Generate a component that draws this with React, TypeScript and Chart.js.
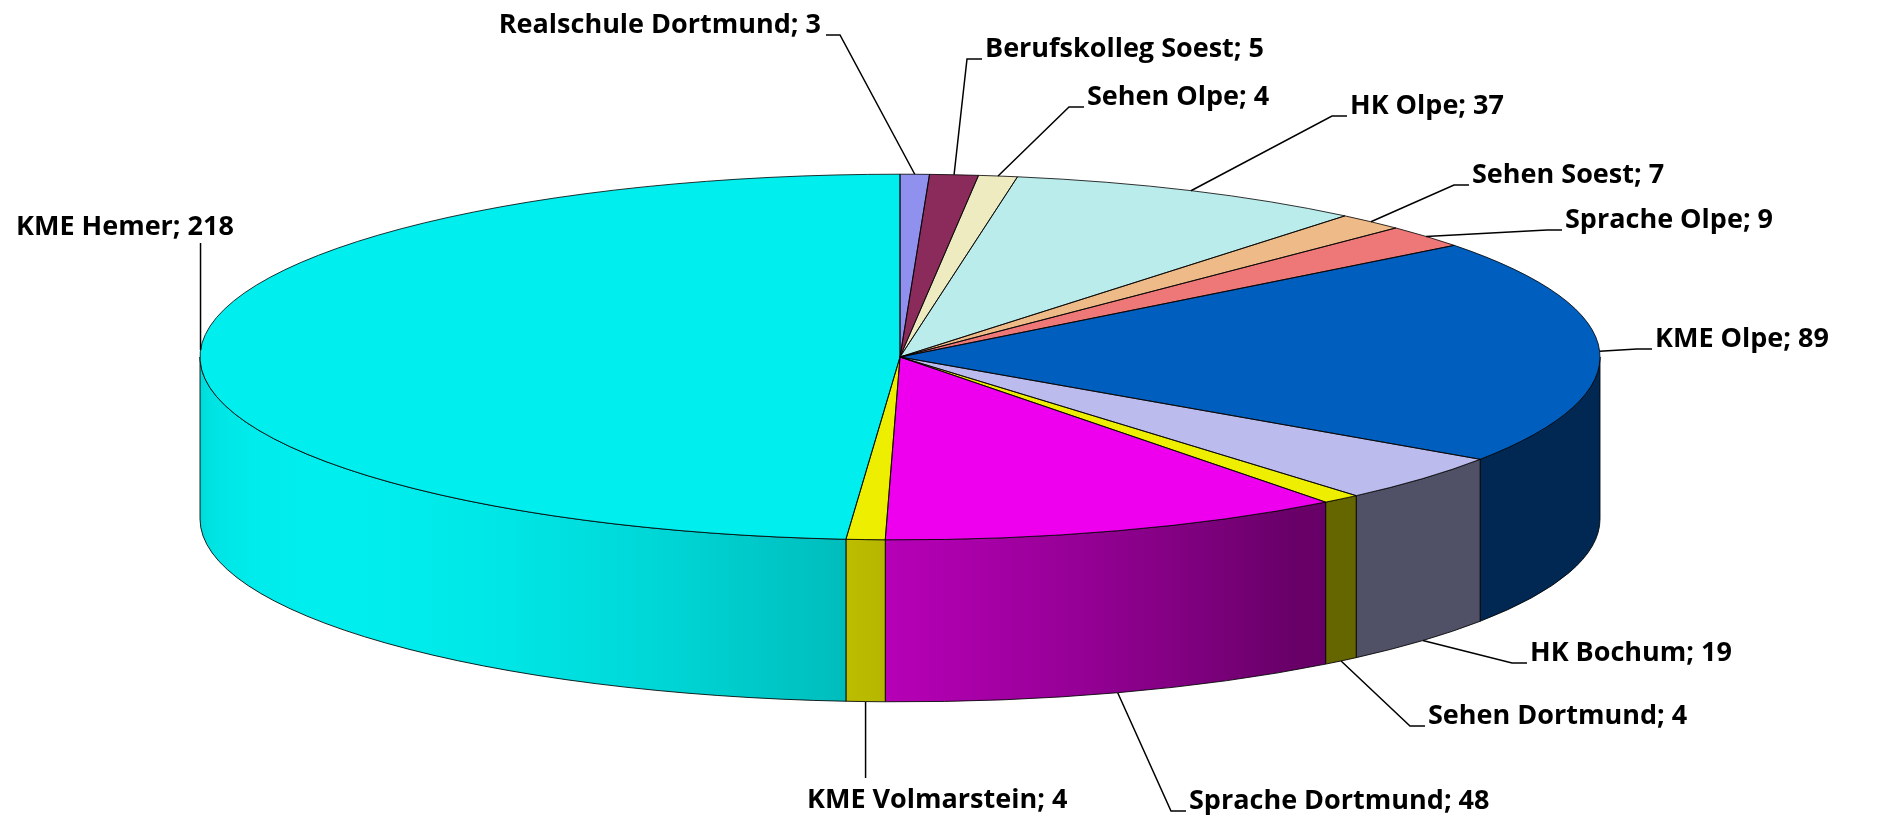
import React, { useEffect, useRef } from 'react';
import { Chart, registerables } from 'chart.js';

Chart.register(...registerables);

// ---------- data ----------
const categories = [
  'Realschule Dortmund',
  'Berufskolleg Soest',
  'Sehen Olpe',
  'HK Olpe',
  'Sehen Soest',
  'Sprache Olpe',
  'KME Olpe',
  'HK Bochum',
  'Sehen Dortmund',
  'Sprache Dortmund',
  'KME Volmarstein',
  'KME Hemer',
];
const values = [3, 5, 4, 37, 7, 9, 89, 19, 4, 48, 4, 218];
const sliceColors = [
  '#9090EE',
  '#8B2B5B',
  '#EEEBC0',
  '#BBECEC',
  '#EEBB88',
  '#EE7777',
  '#005EBE',
  '#BBBBEE',
  '#EEEE00',
  '#EE00EE',
  '#EEEE00',
  '#00EEEE',
];

// ---------- layout / style ----------
const W = 1880;
const H = 821;
const CX = 900;
const CY = 357;
const RX = 700;
const RY = 182.8;
const DEPTH = 162;
const LIGHT = (145 * Math.PI) / 180;
const FONT = 'bold 27px "Open Sans"';

// text reference point and leader style for each label (layout only)
const labelLayout = [
  { x: 821, y: 25, align: 'right', leader: 'side' },
  { x: 985, y: 49, align: 'left', leader: 'side' },
  { x: 1087, y: 97, align: 'left', leader: 'side' },
  { x: 1350, y: 106, align: 'left', leader: 'side' },
  { x: 1472, y: 175, align: 'left', leader: 'side' },
  { x: 1565, y: 220, align: 'left', leader: 'side' },
  { x: 1655, y: 339, align: 'left', leader: 'side' },
  { x: 1530, y: 653, align: 'left', leader: 'side' },
  { x: 1428, y: 716, align: 'left', leader: 'side' },
  { x: 1189, y: 801, align: 'left', leader: 'side' },
  { x: 807, y: 800, align: 'left', leader: 'above' },
  { x: 16, y: 227, align: 'left', leader: 'below' },
];

function shade(hex: string, f: number): string {
  const n = parseInt(hex.slice(1), 16);
  const r = Math.min(255, Math.round(((n >> 16) & 255) * f));
  const g = Math.min(255, Math.round(((n >> 8) & 255) * f));
  const b = Math.min(255, Math.round((n & 255) * f));
  return `rgb(${r},${g},${b})`;
}

function light(t: number): number {
  return 0.43 + 0.57 * Math.max(0, Math.cos(t - LIGHT));
}

const pie3d = {
  id: 'pie3d',
  beforeDatasetsDraw(chart: any) {
    const ctx = chart.ctx as CanvasRenderingContext2D;
    const meta = chart.getDatasetMeta(0);
    const colors = chart.data.datasets[0].backgroundColor as string[];
    // side walls (front half only)
    meta.data.forEach((arc: any, i: number) => {
      const { startAngle, endAngle } = arc.getProps(['startAngle', 'endAngle'], true);
      const a = Math.max(startAngle, 0);
      const b = Math.min(endAngle, Math.PI);
      if (b <= a) return;
      const g = ctx.createLinearGradient(CX - RX, 0, CX + RX, 0);
      const N = 48;
      for (let k = 0; k <= N; k++) {
        const t = (Math.PI * k) / N;
        g.addColorStop((1 + Math.cos(t)) / 2, shade(colors[i], light(t)));
      }
      ctx.beginPath();
      ctx.ellipse(CX, CY, RX, RY, 0, a, b);
      ctx.lineTo(CX + RX * Math.cos(b), CY + DEPTH + RY * Math.sin(b));
      ctx.ellipse(CX, CY + DEPTH, RX, RY, 0, b, a, true);
      ctx.closePath();
      ctx.fillStyle = g;
      ctx.fill();
      ctx.lineWidth = 1;
      ctx.strokeStyle = 'rgba(0,0,0,0.85)';
      ctx.stroke();
    });
    // squash the library's pie into the tilted ellipse
    const arc0: any = meta.data[0];
    const r = arc0.outerRadius;
    ctx.save();
    ctx.translate(CX, CY);
    ctx.scale(RX / r, RY / r);
    ctx.translate(-arc0.x, -arc0.y);
  },
  afterDatasetsDraw(chart: any) {
    const ctx = chart.ctx as CanvasRenderingContext2D;
    ctx.restore();
    const meta = chart.getDatasetMeta(0);
    const labels = chart.data.labels as string[];
    const data = chart.data.datasets[0].data as number[];
    // top face outlines
    ctx.lineWidth = 1;
    ctx.strokeStyle = 'rgba(0,0,0,0.8)';
    meta.data.forEach((arc: any) => {
      const { startAngle, endAngle } = arc.getProps(['startAngle', 'endAngle'], true);
      ctx.beginPath();
      ctx.moveTo(CX, CY);
      ctx.lineTo(CX + RX * Math.cos(startAngle), CY + RY * Math.sin(startAngle));
      ctx.ellipse(CX, CY, RX, RY, 0, startAngle, endAngle);
      ctx.closePath();
      ctx.stroke();
    });
    // labels with leader lines
    ctx.font = FONT;
    ctx.textBaseline = 'middle';
    ctx.fillStyle = '#000';
    meta.data.forEach((arc: any, i: number) => {
      const { startAngle, endAngle } = arc.getProps(['startAngle', 'endAngle'], true);
      const mid = (startAngle + endAngle) / 2;
      const front = Math.sin(mid) > 0;
      const ax = CX + RX * Math.cos(mid);
      const ay = CY + RY * Math.sin(mid) + (front ? DEPTH : 0);
      const L = labelLayout[i];
      const text = `${labels[i]}; ${data[i]}`;
      ctx.beginPath();
      ctx.moveTo(ax, ay);
      if (L.leader === 'side') {
        const yb = L.y + 10;
        if (L.align === 'left') {
          ctx.lineTo(L.x - 18, yb);
          ctx.lineTo(L.x - 3, yb);
        } else {
          ctx.lineTo(L.x + 19, yb);
          ctx.lineTo(L.x + 5, yb);
        }
      } else if (L.leader === 'above') {
        ctx.lineTo(ax, L.y - 22);
      } else {
        ctx.lineTo(ax, L.y + 16);
      }
      ctx.lineWidth = 1.5;
      ctx.strokeStyle = '#000';
      ctx.stroke();
      ctx.textAlign = L.align as CanvasTextAlign;
      ctx.fillText(text, L.x, L.y);
    });
  },
};

export default function App() {
  const ref = useRef<HTMLCanvasElement>(null);
  useEffect(() => {
    document.body.style.margin = '0';
    document.body.style.overflow = 'hidden';
    const canvas = ref.current!;
    const chart = new Chart(canvas, {
      type: 'pie',
      data: {
        labels: categories,
        datasets: [
          {
            data: values,
            backgroundColor: sliceColors,
            borderWidth: 0,
          },
        ],
      },
      options: {
        responsive: false,
        animation: false,
        events: [],
        layout: { padding: { left: 0, right: 2 * (W / 2 - CX), top: 0, bottom: H - 2 * CY } },
        plugins: {
          legend: { display: false },
          tooltip: { enabled: false },
        },
      },
      plugins: [pie3d],
    });
    return () => chart.destroy();
  }, []);
  return (
    <div style={{ width: W, height: H, background: '#fff' }}>
      <canvas ref={ref} width={W} height={H} style={{ display: 'block' }} />
    </div>
  );
}
